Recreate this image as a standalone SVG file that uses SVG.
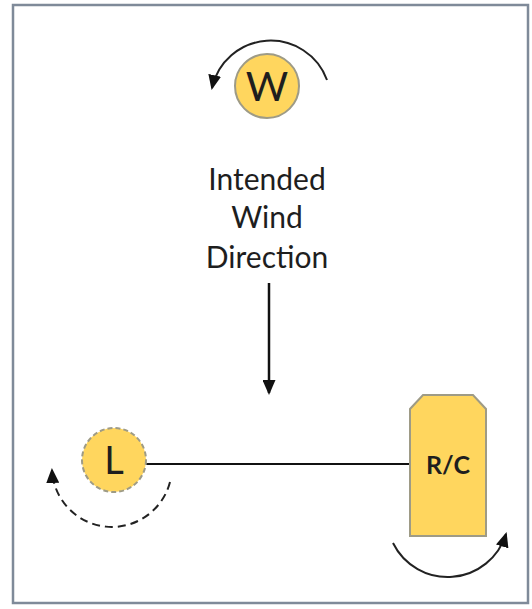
<svg xmlns="http://www.w3.org/2000/svg" width="532" height="609" viewBox="0 0 532 609">
<defs>
<style>
.node{fill:#FFD65E;stroke:#9E9B86;stroke-width:2}
.lbl{font-family:Lato,"Open Sans","Liberation Sans",sans-serif;fill:#1E1E1E;text-anchor:middle}
.arc{fill:none;stroke:#222;stroke-width:2}
</style>
<marker id="ah" viewBox="0 0 15 13" refX="13" refY="6.5" markerWidth="15" markerHeight="13" markerUnits="userSpaceOnUse" orient="auto">
<path d="M0,0 L15,6.5 L0,13 z" fill="#111"/>
</marker>
</defs>
<rect x="13" y="5" width="515" height="598" fill="#fff" stroke="#7F8A99" stroke-width="2.5"/>
<g id="connectors">
<path class="arc" d="M327,80 A60,60 0 0 0 212,88" marker-end="url(#ah)"/>
<line x1="269" y1="283" x2="269" y2="393" stroke="#111" stroke-width="2.5" marker-end="url(#ah)"/>
<line x1="146" y1="464" x2="410" y2="464" stroke="#111" stroke-width="2"/>
<path class="arc" d="M170,482 A60,60 0 0 1 52,470" stroke-dasharray="8,5" marker-end="url(#ah)"/>
<path class="arc" d="M393,543 A61,61 0 0 0 506,534" marker-end="url(#ah)"/>
</g>
<g id="node-W">
<circle class="node" cx="267" cy="86" r="32"/>
<text class="lbl" x="267" y="101" font-size="41">W</text>
</g>
<g id="label-wind">
<text class="lbl" x="267" y="190" font-size="30">Intended</text>
<text class="lbl" x="267" y="228" font-size="30">Wind</text>
<text class="lbl" x="267" y="268" font-size="30">Direction</text>
</g>
<g id="node-L">
<circle class="node" cx="114" cy="460" r="32" stroke-dasharray="5,3"/>
<text class="lbl" x="114" y="474" font-size="38">L</text>
</g>
<g id="node-RC">
<path class="node" d="M423,395 L473,395 L486,409 L486,536 L410,536 L410,409 z"/>
<text class="lbl" x="448" y="474" font-size="25" font-weight="bold">R/C</text>
</g>
</svg>
